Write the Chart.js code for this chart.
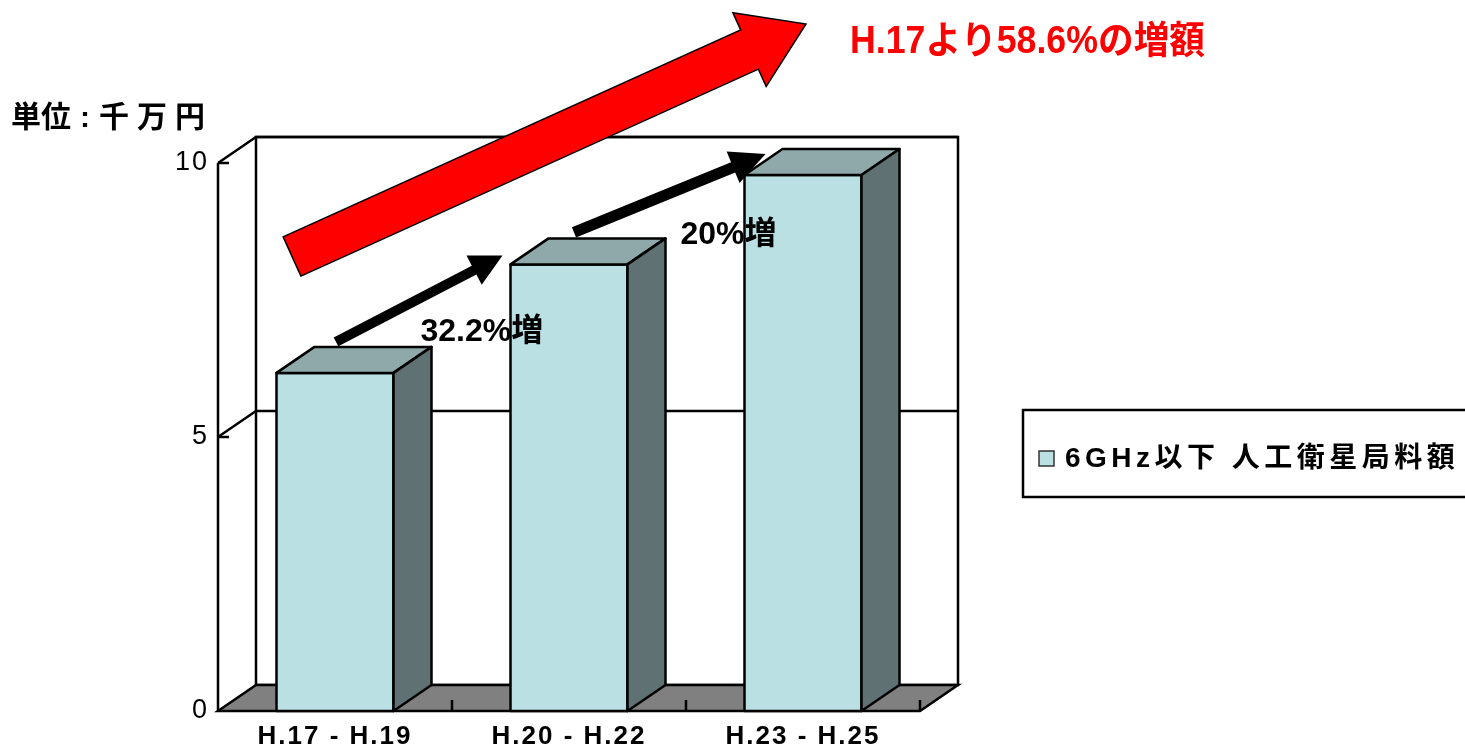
<!DOCTYPE html>
<html>
<head>
<meta charset="utf-8">
<script src="https://cdn.jsdelivr.net/npm/chart.js@4.4.1/dist/chart.umd.min.js"></script>
<style>
  html, body { margin: 0; padding: 0; background: #fff; }
  canvas { display: block; }
</style>
</head>
<body>
<canvas id="myChart" width="1465" height="745"></canvas>
<script>
const categories = ["H.17 - H.19", "H.20 - H.22", "H.23 - H.25"];
const feeValues = [6.17, 8.15, 9.78];
const seriesName = "6GHz以下 人工衛星局料額";
const yTicks = [0, 5, 10];
const stepLabels = ["32.2%増", "20%増"];
const totalLabel = "H.17より58.6%の増額";

const FONT = "'Liberation Sans', 'Noto Sans CJK JP', sans-serif";
const frontColor = "#BBE0E3";
const topColor = "#8FA8AA";
const sideColor = "#5F7173";
const depthX = 38;
const depthY = -26;
const LINE = 2.5;

const poly = (ctx, pts, fill) => {
  ctx.beginPath();
  ctx.moveTo(pts[0][0], pts[0][1]);
  pts.slice(1).forEach((p) => ctx.lineTo(p[0], p[1]));
  ctx.closePath();
  if (fill) {
    ctx.fillStyle = fill;
    ctx.fill();
  }
  ctx.stroke();
};

const arrow = (ctx, x0, y0, x1, y1, sw, hl, hw, fill, stroke) => {
  const len = Math.hypot(x1 - x0, y1 - y0);
  const ux = (x1 - x0) / len, uy = (y1 - y0) / len;
  const nx = -uy, ny = ux;
  const bx = x1 - ux * hl, by = y1 - uy * hl;
  ctx.beginPath();
  ctx.moveTo(x0 + nx * sw / 2, y0 + ny * sw / 2);
  ctx.lineTo(bx + nx * sw / 2, by + ny * sw / 2);
  ctx.lineTo(bx + nx * hw / 2, by + ny * hw / 2);
  ctx.lineTo(x1, y1);
  ctx.lineTo(bx - nx * hw / 2, by - ny * hw / 2);
  ctx.lineTo(bx - nx * sw / 2, by - ny * sw / 2);
  ctx.lineTo(x0 - nx * sw / 2, y0 - ny * sw / 2);
  ctx.closePath();
  ctx.fillStyle = fill;
  ctx.fill();
  if (stroke) {
    ctx.strokeStyle = stroke;
    ctx.lineWidth = 1.5;
    ctx.stroke();
  }
};

const threeD = {
  id: "threeD",
  beforeDraw(chart) {
    chart.ctx.letterSpacing = "2px";
  },
  beforeDatasetsDraw(chart) {
    const ctx = chart.ctx;
    const a = chart.chartArea;
    const y = chart.scales.y;
    const x = chart.scales.x;
    ctx.save();
    ctx.lineWidth = LINE;
    ctx.strokeStyle = "#000";
    // back wall
    ctx.fillStyle = "#fff";
    ctx.beginPath();
    ctx.rect(a.left + depthX, a.top + depthY, a.right - a.left, a.bottom - a.top);
    ctx.fill();
    ctx.stroke();
    // gridlines on left + back wall
    yTicks.forEach((v) => {
      if (v === 0) return;
      const py = y.getPixelForValue(v);
      ctx.beginPath();
      ctx.moveTo(a.left, py);
      ctx.lineTo(a.left + depthX, py + depthY);
      ctx.lineTo(a.right + depthX, py + depthY);
      ctx.stroke();
      ctx.beginPath();
      ctx.moveTo(a.left, py);
      ctx.lineTo(a.left + 11, py);
      ctx.stroke();
    });
    ctx.beginPath();
    ctx.moveTo(a.left, a.bottom);
    ctx.lineTo(a.left, a.top);
    ctx.stroke();
    // floor
    poly(ctx, [
      [a.left, a.bottom], [a.right, a.bottom],
      [a.right + depthX, a.bottom + depthY], [a.left + depthX, a.bottom + depthY]
    ], "#808080");
    for (let i = 1; i <= categories.length; i++) {
      const px = x.getPixelForValue(i - 0.5);
      ctx.beginPath();
      ctx.moveTo(px, a.bottom);
      ctx.lineTo(px, a.bottom - 11);
      ctx.stroke();
    }
    ctx.restore();
  },
  afterDatasetsDraw(chart) {
    const ctx = chart.ctx;
    ctx.save();
    ctx.lineWidth = LINE;
    ctx.strokeStyle = "#000";
    ctx.lineJoin = "round";
    chart.getDatasetMeta(0).data.forEach((bar) => {
      const { x: cx, y: top, base, width } = bar.getProps(["x", "y", "base", "width"], true);
      const l = cx - width / 2, r = cx + width / 2;
      ctx.strokeRect(l, top, width, base - top);
      poly(ctx, [[l, top], [r, top], [r + depthX, top + depthY], [l + depthX, top + depthY]], topColor);
      poly(ctx, [[r, top], [r + depthX, top + depthY], [r + depthX, base + depthY], [r, base]], sideColor);
    });
    ctx.restore();
  },
  afterDraw(chart) {
    const ctx = chart.ctx;
    const bars = chart.getDatasetMeta(0).data.map((b) => b.getProps(["x", "y", "width"], true));
    ctx.save();
    ctx.letterSpacing = "0px";

    // big red arrow
    arrow(ctx, 292, 256.5, 806, 24, 43, 62, 81, "#FF0000", "#000");

    // step arrows between bars
    const b0 = bars[0], b1 = bars[1], b2 = bars[2];
    arrow(ctx, b0.x + 1, b0.y - 31, b1.x - b1.width / 2 - 8, b1.y - 9, 10, 32, 33, "#000");
    arrow(ctx, b1.x + 5, b1.y - 32, b2.x - b2.width / 2 + 21, b2.y - 21, 11, 35, 34, "#000");

    ctx.fillStyle = "#000";
    ctx.textBaseline = "middle";
    ctx.textAlign = "left";
    ctx.font = "bold 32px " + FONT;
    ctx.fillText(stepLabels[0], b0.x + b0.width / 2 + 27, (b0.y + b1.y) / 2 + 14);
    ctx.fillText(stepLabels[1], b2.x - b2.width / 2 - 64, (b1.y + b2.y) / 2 + 15);

    // title
    ctx.fillStyle = "#FF0000";
    ctx.font = "bold 38px " + FONT;
    ctx.fillText(totalLabel, 850, 43, 355);

    // unit label
    ctx.fillStyle = "#000";
    ctx.font = "bold 30px " + FONT;
    ctx.letterSpacing = "0px";
    ctx.fillText("単位", 11, 119);
    ctx.fillText(":", 80, 119);
    ctx.letterSpacing = "8px";
    ctx.fillText("千万円", 99, 119);

    // legend
    ctx.letterSpacing = "0px";
    ctx.lineWidth = LINE;
    ctx.strokeStyle = "#000";
    ctx.strokeRect(1023, 410, 470, 87);
    ctx.fillStyle = frontColor;
    ctx.fillRect(1039, 451, 15, 15);
    ctx.lineWidth = 1.5;
    ctx.strokeStyle = "#333";
    ctx.strokeRect(1039, 451, 15, 15);
    ctx.fillStyle = "#000";
    ctx.font = "bold 28px " + FONT;
    ctx.letterSpacing = "4.5px";
    ctx.fillText(chart.data.datasets[0].label, 1065, 459, 396);
    ctx.restore();
  }
};

const ctx = document.getElementById("myChart").getContext("2d");
const myChart = new Chart(ctx, {
  type: "bar",
  data: {
    labels: categories,
    datasets: [
      {
        label: seriesName,
        data: feeValues,
        backgroundColor: frontColor,
        borderWidth: 0,
        barPercentage: 0.5,
        categoryPercentage: 1,
      },
    ],
  },
  options: {
    responsive: false,
    animation: false,
    layout: { padding: { left: 0, top: 163, right: 545, bottom: 0 } },
    plugins: { legend: { display: false }, tooltip: { enabled: false } },
    scales: {
      x: {
        grid: { display: false, drawTicks: false },
        border: { display: false },
        ticks: {
          font: { family: FONT, size: 26, weight: "bold" },
          color: "#000",
          padding: 10,
          maxRotation: 0,
          autoSkip: false,
        },
        afterFit(s) { s.height = 34; },
      },
      y: {
        min: 0,
        max: 10,
        afterBuildTicks(s) { s.ticks = yTicks.map((v) => ({ value: v })); },
        grid: { display: false, drawTicks: false },
        border: { display: false },
        ticks: {
          font: { family: FONT, size: 27 },
          color: "#000",
          padding: 9,
        },
        afterFit(s) { s.width = 218; },
      },
    },
  },
  plugins: [threeD],
});
</script>
</body>
</html>
